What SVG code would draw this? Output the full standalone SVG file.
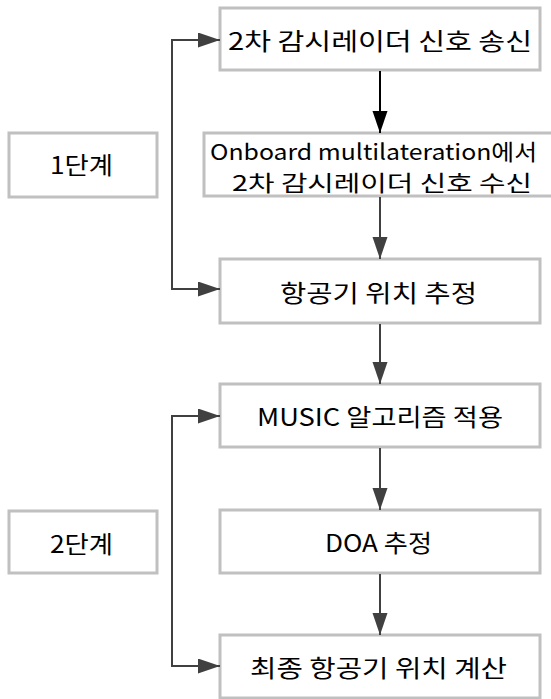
<svg xmlns="http://www.w3.org/2000/svg" width="551" height="699" viewBox="0 0 551 699">
<style>
.box{fill:#fff;stroke:#c0c0c0;stroke-width:3}
.t{font-family:"Noto Sans CJK KR","Noto Sans",sans-serif;font-size:24px;fill:#000;text-anchor:middle;dominant-baseline:central}
.s{font-size:22px}
.c{fill:none;stroke:#404040;stroke-width:2}
</style>
<defs>
<marker id="ah" markerUnits="userSpaceOnUse" markerWidth="24" markerHeight="16" refX="22" refY="7.5" orient="auto-start-reverse">
<path d="M0,0 L22,7.5 L0,15 Z" fill="#404040"/>
</marker>
<marker id="ahb" markerUnits="userSpaceOnUse" markerWidth="24" markerHeight="16" refX="22" refY="7.5" orient="auto">
<path d="M0,0 L22,7.5 L0,15 Z" fill="#000"/>
</marker>
</defs>
<g id="n1"><rect class="box" x="220" y="8" width="320" height="62"/><text class="t" x="380" y="39" textLength="304" lengthAdjust="spacingAndGlyphs">2차 감시레이더 신호 송신</text></g>
<g id="n2"><rect class="box" x="204" y="133" width="360" height="63"/><text class="t s" x="373.5" y="150" textLength="327" lengthAdjust="spacingAndGlyphs">Onboard multilateration에서</text><text class="t s" x="382" y="181" textLength="300" lengthAdjust="spacingAndGlyphs">2차 감시레이더 신호 수신</text></g>
<g id="n3"><rect class="box" x="220" y="259" width="320" height="64"/><text class="t" x="378.5" y="291" textLength="197" lengthAdjust="spacingAndGlyphs">항공기 위치 추정</text></g>
<g id="n4"><rect class="box" x="220" y="384" width="320" height="63"/><text class="t" x="380" y="415" textLength="246" lengthAdjust="spacingAndGlyphs">MUSIC 알고리즘 적용</text></g>
<g id="n5"><rect class="box" x="220" y="510" width="320" height="63"/><text class="t" x="378.5" y="541" textLength="107" lengthAdjust="spacingAndGlyphs">DOA 추정</text></g>
<g id="n6"><rect class="box" x="220" y="635" width="320" height="63"/><text class="t" x="378.5" y="666" textLength="257" lengthAdjust="spacingAndGlyphs">최종 항공기 위치 계산</text></g>
<g id="s1"><rect class="box" x="9" y="133" width="148" height="64"/><text class="t" x="81.5" y="163" textLength="63" lengthAdjust="spacingAndGlyphs">1단계</text></g>
<g id="s2"><rect class="box" x="9" y="511" width="148" height="62"/><text class="t" x="81.5" y="542" textLength="63" lengthAdjust="spacingAndGlyphs">2단계</text></g>
<g id="connectors">
<line x1="380" y1="71" x2="380" y2="133" stroke="#000" stroke-width="2" marker-end="url(#ahb)"/>
<line class="c" x1="380" y1="197" x2="380" y2="259" marker-end="url(#ah)"/>
<line class="c" x1="380" y1="324" x2="380" y2="384" marker-end="url(#ah)"/>
<line class="c" x1="380" y1="448" x2="380" y2="510" marker-end="url(#ah)"/>
<line class="c" x1="380" y1="574" x2="380" y2="635" marker-end="url(#ah)"/>
<path class="c" d="M220,289 H172 V40 H220" marker-start="url(#ah)" marker-end="url(#ah)"/>
<path class="c" d="M220,666 H172 V416 H220" marker-start="url(#ah)" marker-end="url(#ah)"/>
</g>
</svg>
